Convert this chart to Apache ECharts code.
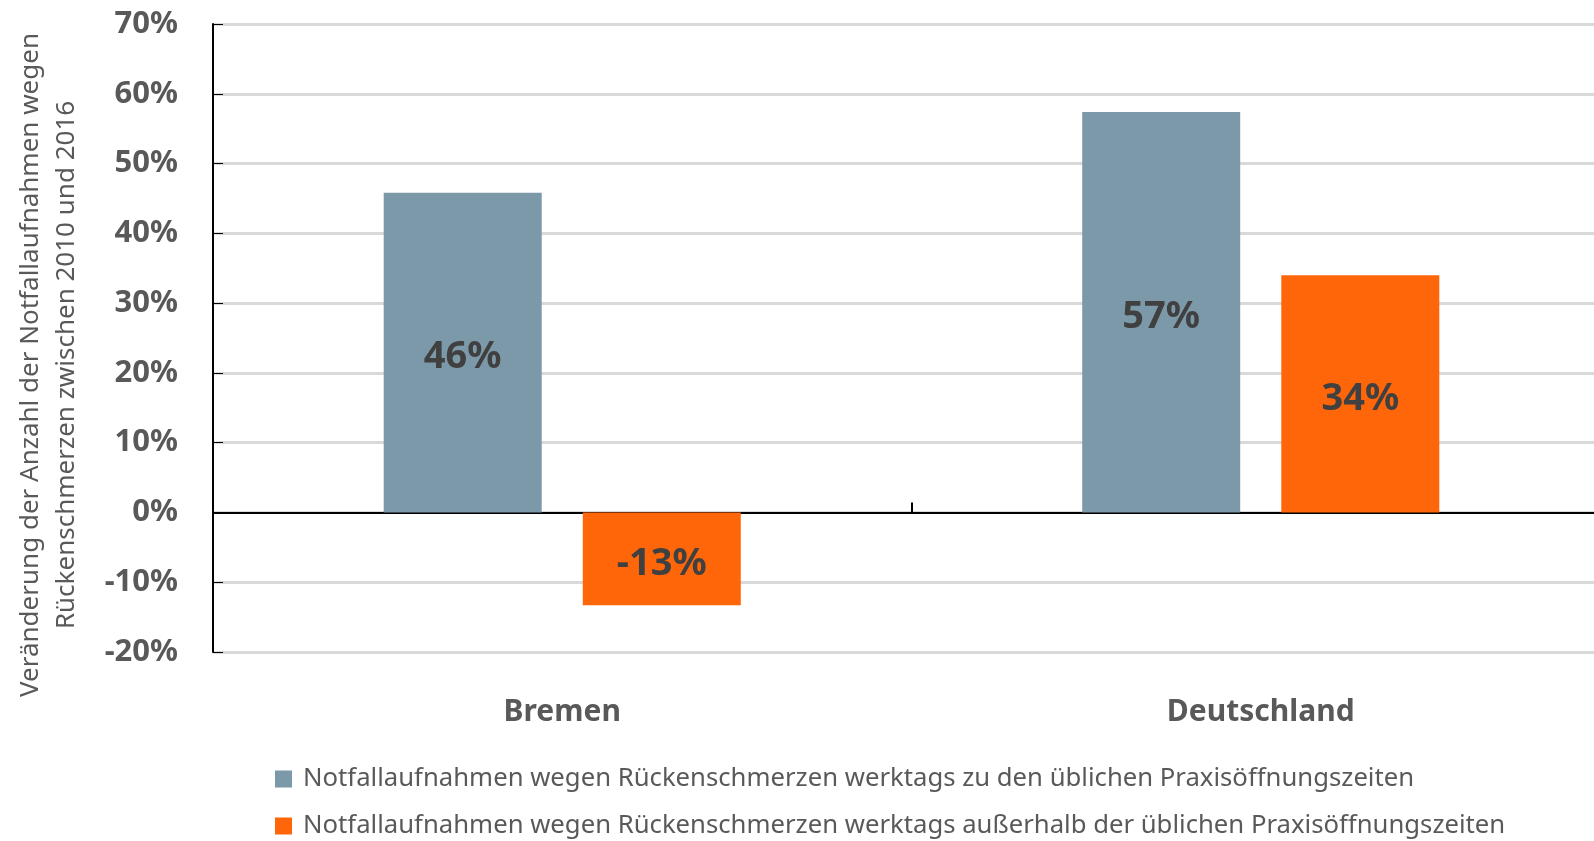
<!DOCTYPE html>
<html>
<head>
<meta charset="utf-8">
<script src="https://cdn.jsdelivr.net/npm/echarts@6/dist/echarts.min.js"></script>
<style>
html, body { margin: 0; padding: 0; background: #fff; overflow: hidden; }
/* plot area runs a bit past the right edge in the original, so the chart is wider than the window */
#chart { width: 1610px; height: 841px; }
</style>
</head>
<body>
<div id="chart"></div>
<script>
// categories and values (percent change 2010 -> 2016)
var categories = ['Bremen', 'Deutschland'];
var regularHours = [45.8, 57.4];
var outsideHours = [-13.3, 34.0];
var seriesNames = [
    'Notfallaufnahmen wegen Rückenschmerzen werktags zu den üblichen Praxisöffnungszeiten',
    'Notfallaufnahmen wegen Rückenschmerzen werktags außerhalb der üblichen Praxisöffnungszeiten'
];
var yMin = -20, yMax = 70, yStep = 10;
var axisTitle = 'Veränderung der Anzahl der Notfallaufnahmen wegen\nRückenschmerzen zwischen 2010 und 2016';

var colors = ['#7b99a9', '#ff660a'];
var font = 'Noto Sans';

var chart = echarts.init(document.getElementById('chart'));

var labelStyle = {
    show: true,
    position: 'inside',
    offset: [0, 5],
    fontFamily: font,
    fontWeight: 'bold',
    fontSize: 38,
    color: '#404040',
    formatter: function (p) { return Math.round(p.value) + '%' }
};

var option = {
    animation: false,
    color: colors,
    textStyle: { fontFamily: font },
    grid: {
        left: 213,
        top: 24,
        bottom: 189,
        right: 0
    },
    legend: {
        orient: 'vertical',
        left: 275,
        top: 766,
        padding: 0,
        icon: 'rect',
        itemWidth: 17,
        itemHeight: 17,
        itemGap: 21,
        selectedMode: false,
        textStyle: {
            fontFamily: font,
            fontSize: 25.7,
            lineHeight: 26,
            padding: [0, 0, 0, 6],
            color: '#595959'
        },
        data: seriesNames
    },
    xAxis: [
        {
            type: 'category',
            data: categories,
            position: 'bottom',
            axisLine: { onZero: true, lineStyle: { color: '#000', width: 2 } },
            axisTick: { show: true, inside: true, length: 10, lineStyle: { color: '#000', width: 2 } },
            axisLabel: { show: false }
        },
        {
            type: 'category',
            data: categories,
            position: 'bottom',
            axisLine: { show: false, onZero: false },
            axisTick: { show: false },
            axisLabel: {
                margin: 45,
                fontFamily: font,
                fontWeight: 'bold',
                fontSize: 30,
                color: '#595959'
            }
        }
    ],
    yAxis: {
        type: 'value',
        min: yMin,
        max: yMax,
        interval: yStep,
        axisLine: { show: true, lineStyle: { color: '#000', width: 2 } },
        axisTick: { show: true, inside: true, length: 10, lineStyle: { color: '#000', width: 1 } },
        axisLabel: {
            margin: 35,
            fontFamily: font,
            fontWeight: 'bold',
            fontSize: 31,
            color: '#595959',
            formatter: '{value}%'
        },
        splitLine: { lineStyle: { color: '#d9d9d9', width: 3 } }
    },
    graphic: [
        {
            type: 'text',
            x: 49,
            y: 365,
            rotation: Math.PI / 2,
            style: {
                text: axisTitle,
                fontFamily: font,
                fontSize: 26,
                lineHeight: 36,
                fill: '#595959',
                align: 'center',
                verticalAlign: 'middle'
            }
        }
    ],
    series: [
        {
            name: seriesNames[0],
            type: 'bar',
            xAxisIndex: 0,
            barWidth: 158,
            barGap: '26%',
            data: regularHours,
            label: labelStyle
        },
        {
            name: seriesNames[1],
            type: 'bar',
            xAxisIndex: 0,
            barWidth: 158,
            barGap: '26%',
            data: outsideHours,
            label: labelStyle
        }
    ]
};

chart.setOption(option);
</script>
</body>
</html>
